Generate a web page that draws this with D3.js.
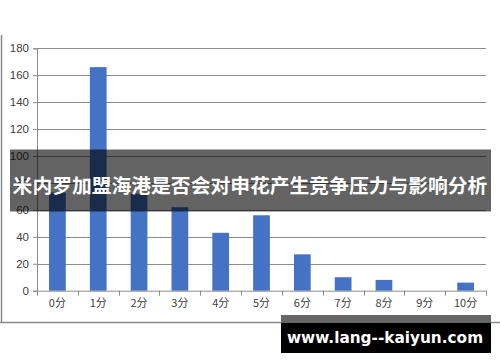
<!DOCTYPE html>
<html><head><meta charset="utf-8">
<script src="https://cdn.jsdelivr.net/npm/d3@7/dist/d3.min.js"></script>
<style>body{margin:0;background:#fff}svg{display:block}</style>
</head><body>
<svg id="c" width="500" height="362"></svg>
<script>
const categories = ["0分","1分","2分","3分","4分","5分","6分","7分","8分","9分","10分"];
const values = [73, 166, 72, 62, 43, 56, 27, 10, 8, 0, 6];
const yTicks = [0, 20, 40, 60, 80, 100, 120, 140, 160, 180];
const title = "米内罗加盟海港是否会对申花产生竞争压力与影响分析";
const watermark = "www.lang--kaiyun.com";

const svg = d3.select("#c");
const m = {left: 37, right: 486, top: 48.3, bottom: 290.7};
const x = d3.scaleBand().domain(categories).range([m.left, m.right]).paddingInner(0.59).paddingOuter(0.295);
const y = d3.scaleLinear().domain([0, 180]).range([m.bottom, m.top]);

// frame
svg.append("line").attr("x1", 1.5).attr("x2", 1.5).attr("y1", 35).attr("y2", 323).attr("stroke", "#8a8a8a").attr("stroke-width", 1.5);
svg.append("line").attr("x1", 0).attr("x2", 500).attr("y1", 322.5).attr("y2", 322.5).attr("stroke", "#8a8a8a").attr("stroke-width", 1.5);

// gridlines
svg.append("g").selectAll("line").data(yTicks.filter(d => d > 0)).join("line")
  .attr("x1", m.left).attr("x2", m.right)
  .attr("y1", d => Math.round(y(d)) + 0.5).attr("y2", d => Math.round(y(d)) + 0.5)
  .attr("stroke", "#8c8c8c").attr("stroke-width", 1);

// bars
svg.append("g").selectAll("rect").data(values).join("rect")
  .attr("x", (d, i) => x(categories[i]))
  .attr("width", x.bandwidth())
  .attr("y", d => y(d))
  .attr("height", d => y(0) - y(d))
  .attr("fill", "#4472c4");

// y axis
const yAxis = svg.append("g").attr("transform", `translate(${m.left},0)`)
  .call(d3.axisLeft(y).tickValues(yTicks).tickSize(4).tickPadding(4));
yAxis.select(".domain").attr("stroke", "#8c8c8c");
yAxis.selectAll(".tick line").attr("stroke", "#8c8c8c");
yAxis.selectAll("text").attr("font-family", "'Liberation Sans', Arial, sans-serif").attr("font-size", 11.5).attr("fill", "#404040");

// x axis
const xAxis = svg.append("g").attr("transform", `translate(0,${m.bottom})`)
  .call(d3.axisBottom(x).tickSize(0).tickPadding(9));
xAxis.select(".domain").attr("stroke", "#8c8c8c");
xAxis.selectAll("text").attr("font-family", "'Noto Sans CJK SC', sans-serif").attr("font-size", 11).attr("fill", "#404040");
// tick marks at band boundaries
const bounds = d3.range(categories.length + 1).map(i => m.left + i * (m.right - m.left) / categories.length);
svg.append("g").selectAll("line").data(bounds).join("line")
  .attr("x1", d => Math.round(d) + 0.5).attr("x2", d => Math.round(d) + 0.5)
  .attr("y1", m.bottom).attr("y2", m.bottom + 5).attr("stroke", "#8c8c8c");

// title banner
svg.append("rect").attr("x", 10).attr("y", 149.5).attr("width", 481).attr("height", 62).attr("fill", "rgba(0,0,0,0.61)");
svg.append("text").attr("x", 250).attr("y", 184).attr("text-anchor", "middle").attr("dominant-baseline", "central")
  .attr("font-family", "'Noto Sans CJK SC', sans-serif").attr("font-weight", "bold").attr("font-size", 19.8)
  .attr("fill", "#fff").text(title);

// watermark
svg.append("rect").attr("x", 281).attr("y", 315).attr("width", 210).attr("height", 8).attr("fill", "#666");
svg.append("rect").attr("x", 281).attr("y", 323).attr("width", 210).attr("height", 30).attr("fill", "#000");
svg.append("text").attr("x", 385).attr("y", 343).attr("text-anchor", "middle")
  .attr("font-family", "'DejaVu Sans', sans-serif").attr("font-weight", "bold").attr("font-size", 15.3)
  .attr("fill", "#fff").text(watermark);
</script>
</body></html>
